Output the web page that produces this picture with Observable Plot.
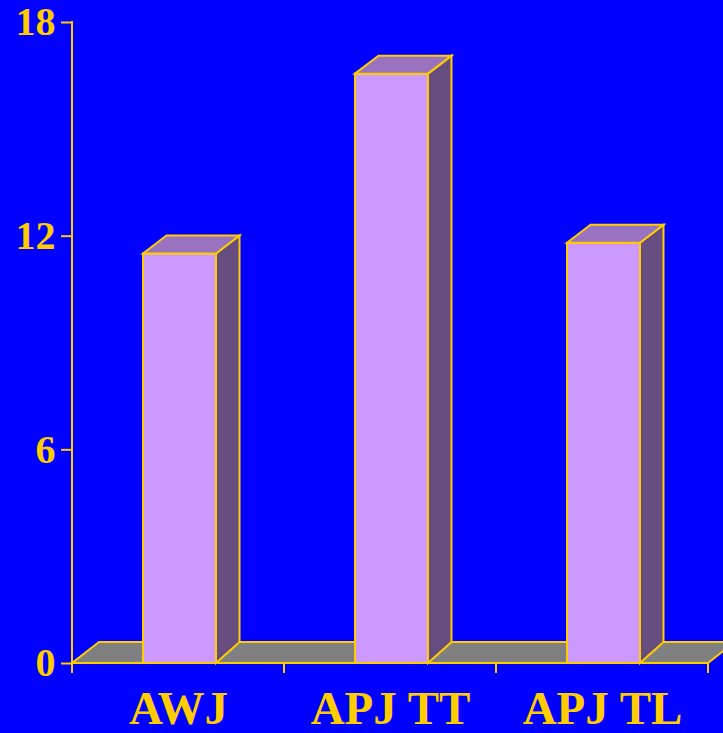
<!DOCTYPE html>
<html>
<head>
<meta charset="utf-8">
<script src="https://cdn.jsdelivr.net/npm/d3@7"></script>
<script src="https://cdn.jsdelivr.net/npm/@observablehq/plot@0.6"></script>
<style>
  html, body { margin: 0; padding: 0; background: #0000FF; overflow: hidden; }
</style>
</head>
<body>
<div id="chart"></div>
<script>
// ---- data ----
const categories = ["AWJ", "APJ TT", "APJ TL"];
const values = [11.5, 16.55, 11.8];
const yTicks = [0, 6, 12, 18];

// ---- styling constants ----
const GOLD = "#FFCC00";
const FRONT = "#CC99FF";
const TOP = "#9973BF";
const SIDE = "#664C7F";
const FLOOR = "#808080";
const INSET_L = 71, INSET_R = 68;       // bar front face inside its band
const BAR_DX = 23.5, BAR_DY_TOP = 18, BAR_DY_BOT = 21;
const FLOOR_DX = 27, FLOOR_DY = 21;

const data = categories.map((c, i) => ({category: c, value: values[i]}));

function poly(g, pts, fill) {
  g.append("path")
    .attr("d", "M" + pts.map(p => p.join(",")).join("L") + "Z")
    .attr("fill", fill)
    .attr("stroke", GOLD)
    .attr("stroke-width", 2)
    .attr("stroke-linejoin", "miter");
}

// floor (drawn from the x and y scales)
function floorMark(index, scales) {
  const {x, y} = scales;
  const g = d3.create("svg:g");
  const xl = x(categories[0]);
  const xr = x(categories[categories.length - 1]) + x.bandwidth();
  const y0 = y(0);
  poly(g, [[xl, y0], [xr, y0], [xr + FLOOR_DX, y0 - FLOOR_DY], [xl + FLOOR_DX, y0 - FLOOR_DY]], FLOOR);
  return g.node();
}

// side and top faces of each bar
function depthMark(index, scales) {
  const {x, y} = scales;
  const g = d3.create("svg:g");
  const bw = x.bandwidth();
  data.forEach(d => {
    const x0 = x(d.category) + INSET_L;
    const x1 = x(d.category) + bw - INSET_R;
    const yv = y(d.value), y0 = y(0);
    poly(g, [[x1, y0], [x1 + BAR_DX, y0 - BAR_DY_BOT], [x1 + BAR_DX, yv - BAR_DY_TOP], [x1, yv]], SIDE);
    poly(g, [[x0, yv], [x0 + BAR_DX, yv - BAR_DY_TOP], [x1 + BAR_DX, yv - BAR_DY_TOP], [x1, yv]], TOP);
  });
  return g.node();
}

// axis lines and x ticks at band boundaries
function axisLines(index, scales) {
  const {x, y} = scales;
  const g = d3.create("svg:g").attr("stroke", GOLD).attr("stroke-width", 2).attr("fill", "none");
  const xl = x(categories[0]);
  const xr = x(categories[categories.length - 1]) + x.bandwidth();
  const y0 = y(0);
  g.append("line").attr("x1", xl).attr("x2", xl).attr("y1", y(yTicks[yTicks.length - 1]) - 1).attr("y2", y0 + 1);
  g.append("line").attr("x1", xl).attr("x2", xr).attr("y1", y0).attr("y2", y0);
  const bounds = categories.map(c => x(c)).concat([xr]);
  bounds.forEach(b => g.append("line").attr("x1", b).attr("x2", b).attr("y1", y0).attr("y2", y0 + 10));
  return g.node();
}

const chart = Plot.plot({
  width: 723,
  height: 733,
  marginLeft: 72,
  marginRight: 15,
  marginTop: 22,
  marginBottom: 70,
  style: {
    background: "#0000FF",
    color: GOLD,
    fontFamily: "'Liberation Serif', 'Times New Roman', serif",
    fontWeight: "bold",
    overflow: "hidden"
  },
  x: {domain: categories, padding: 0, axis: null},
  y: {domain: [0, 18], axis: null},
  marks: [
    floorMark,
    Plot.barY(data, {x: "category", y: "value", fill: FRONT, stroke: GOLD, strokeWidth: 2, insetLeft: INSET_L, insetRight: INSET_R}),
    depthMark,
    Plot.axisY({ticks: yTicks, tickSize: 11, tickPadding: 6, fontSize: 40, fontWeight: "bold", stroke: GOLD, strokeWidth: 2, fill: GOLD, label: null, tickFormat: d => String(d)}),
    Plot.axisX({tickSize: 0, tickPadding: 27, fontSize: 47, fontWeight: "bold", fill: GOLD, label: null}),
    axisLines
  ]
});
document.getElementById("chart").appendChild(chart);
</script>
</body>
</html>
